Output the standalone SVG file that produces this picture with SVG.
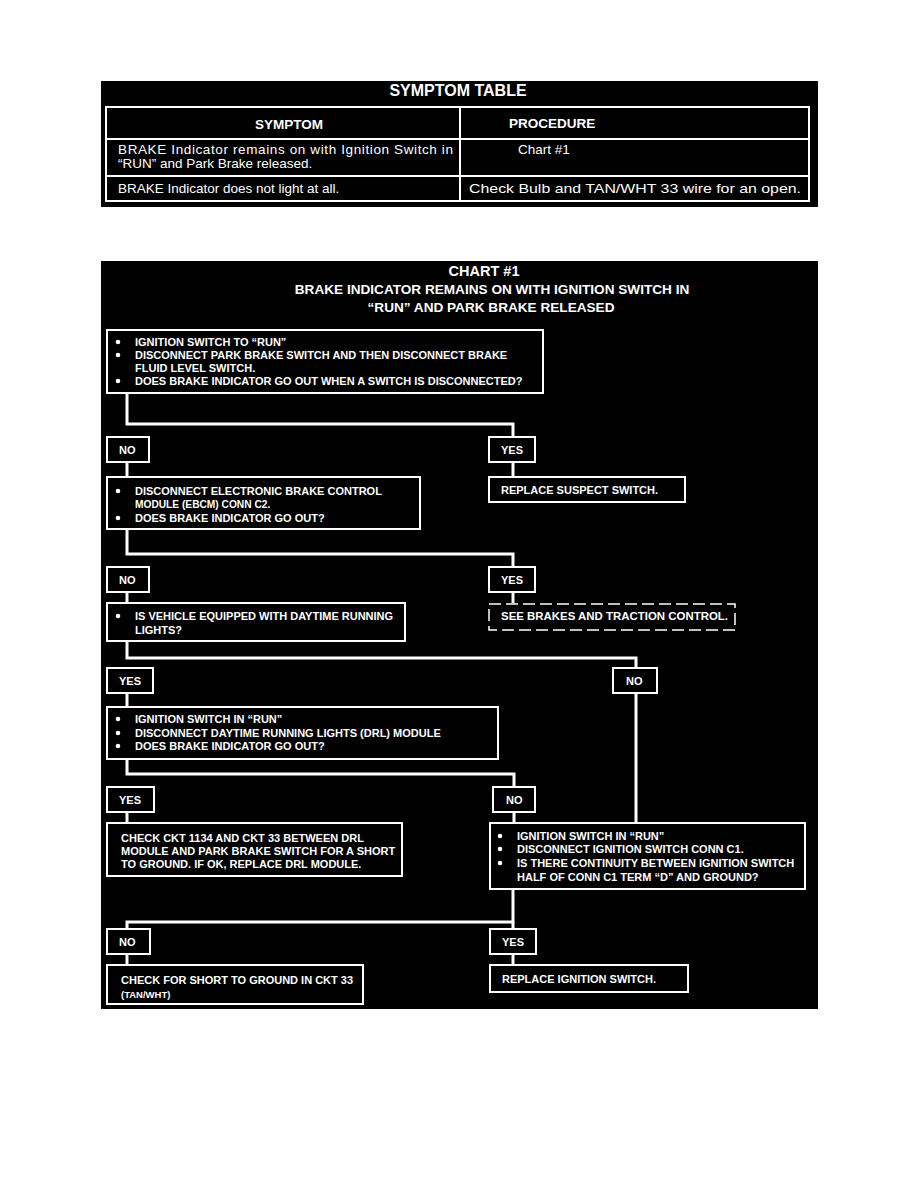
<svg xmlns="http://www.w3.org/2000/svg" width="918" height="1188" viewBox="0 0 918 1188">
<style>
.bg{fill:#000}
.cell{fill:none;stroke:#fff;stroke-width:2}
.box{fill:#000;stroke:#fff;stroke-width:2}
.dash{fill:#000;stroke:#fff;stroke-width:1.5;stroke-dasharray:12 5}
.con{fill:none;stroke:#fff;stroke-width:3}
.dot{fill:#fff}
.t{font-family:"Liberation Sans",Arial,sans-serif;fill:#fff;font-size:13.5px}
.h{font-family:"Liberation Sans",Arial,sans-serif;fill:#fff;font-weight:bold}
.b{font-family:"Liberation Sans",Arial,sans-serif;fill:#fff;font-weight:bold;font-size:11px}
</style>
<rect width="918" height="1188" fill="#fff"/>
<g id="symptom-table">
<rect class="bg" x="101" y="81" width="717" height="126"/>
<text class="h" x="458" y="96" font-size="16" text-anchor="middle">SYMPTOM TABLE</text>
<rect class="cell" x="106" y="107" width="703" height="94"/>
<line class="cell" x1="460" y1="107" x2="460" y2="201"/>
<line class="cell" x1="106" y1="139" x2="809" y2="139"/>
<line class="cell" x1="106" y1="176" x2="809" y2="176"/>
<text class="h" x="289" y="129" font-size="13.5" text-anchor="middle">SYMPTOM</text>
<text class="h" x="509" y="128" font-size="13.5">PROCEDURE</text>
<text class="t" x="118" y="154" textLength="335" lengthAdjust="spacing">BRAKE Indicator remains on with Ignition Switch in</text>
<text class="t" x="118" y="168">“RUN” and Park Brake released.</text>
<text class="t" x="518" y="154">Chart #1</text>
<text class="t" x="118" y="193">BRAKE Indicator does not light at all.</text>
<text class="t" x="469" y="193" textLength="332" lengthAdjust="spacingAndGlyphs">Check Bulb and TAN/WHT 33 wire for an open.</text>
</g>
<rect class="bg" x="101" y="261" width="717" height="748"/>
<g id="title">
<text class="h" x="484" y="276" font-size="14.5" text-anchor="middle">CHART #1</text>
<text class="h" x="492" y="294" font-size="13.6" text-anchor="middle">BRAKE INDICATOR REMAINS ON WITH IGNITION SWITCH IN</text>
<text class="h" x="491" y="312" font-size="13.6" text-anchor="middle">“RUN” AND PARK BRAKE RELEASED</text>
</g>
<g id="connectors">
<polyline class="con" points="127,393 127,424 513,424 513,437"/>
<line class="con" x1="127" y1="462" x2="127" y2="477"/>
<line class="con" x1="513" y1="462" x2="513" y2="477"/>
<polyline class="con" points="127,529 127,554 513,554 513,567"/>
<line class="con" x1="127" y1="592" x2="127" y2="603"/>
<line class="con" x1="513" y1="592" x2="513" y2="603"/>
<polyline class="con" points="127,641 127,658 636,658 636,668"/>
<line class="con" x1="127" y1="693" x2="127" y2="707"/>
<line class="con" x1="636" y1="693" x2="636" y2="823"/>
<polyline class="con" points="127,759 127,774 514,774 514,787"/>
<line class="con" x1="127" y1="812" x2="127" y2="823"/>
<line class="con" x1="514" y1="812" x2="514" y2="823"/>
<polyline class="con" points="513,889 513,922 127,922 127,929"/>
<line class="con" x1="513" y1="922" x2="513" y2="929"/>
<line class="con" x1="127" y1="954" x2="127" y2="965"/>
<line class="con" x1="513" y1="954" x2="513" y2="965"/>
</g>
<g id="n1">
<rect class="box" x="107" y="330" width="436" height="63"/>
<circle class="dot" cx="118" cy="342" r="2.3"/><text class="b" x="135" y="346">IGNITION SWITCH TO “RUN”</text>
<circle class="dot" cx="118" cy="355" r="2.3"/><text class="b" x="135" y="359">DISCONNECT PARK BRAKE SWITCH AND THEN DISCONNECT BRAKE</text>
<text class="b" x="135" y="372">FLUID LEVEL SWITCH.</text>
<circle class="dot" cx="118" cy="381" r="2.3"/><text class="b" x="135" y="385">DOES BRAKE INDICATOR GO OUT WHEN A SWITCH IS DISCONNECTED?</text>
</g>
<g id="l1no"><rect class="box" x="107" y="437" width="42" height="25"/><text class="b" x="119" y="454">NO</text></g>
<g id="l1yes"><rect class="box" x="489" y="437" width="46" height="25"/><text class="b" x="501" y="454">YES</text></g>
<g id="n2">
<rect class="box" x="107" y="477" width="313" height="52"/>
<circle class="dot" cx="118" cy="491" r="2.3"/><text class="b" x="135" y="495">DISCONNECT ELECTRONIC BRAKE CONTROL</text>
<text class="b" x="135" y="508" style="font-size:10.2px">MODULE (EBCM) CONN C2.</text>
<circle class="dot" cx="118" cy="518" r="2.3"/><text class="b" x="135" y="522">DOES BRAKE INDICATOR GO OUT?</text>
</g>
<g id="n3">
<rect class="box" x="489" y="477" width="196" height="25"/>
<text class="b" x="501" y="494">REPLACE SUSPECT SWITCH.</text>
</g>
<g id="l2no"><rect class="box" x="107" y="567" width="42" height="25"/><text class="b" x="119" y="584">NO</text></g>
<g id="l2yes"><rect class="box" x="489" y="567" width="46" height="25"/><text class="b" x="501" y="584">YES</text></g>
<g id="n4">
<rect class="box" x="107" y="603" width="298" height="38"/>
<circle class="dot" cx="118" cy="616" r="2.3"/><text class="b" x="135" y="620">IS VEHICLE EQUIPPED WITH DAYTIME RUNNING</text>
<text class="b" x="135" y="634">LIGHTS?</text>
</g>
<g id="n5">
<rect class="dash" x="489" y="604" width="246" height="26"/>
<text class="b" x="501" y="620" style="font-size:10.8px" textLength="227" lengthAdjust="spacingAndGlyphs">SEE BRAKES  AND TRACTION CONTROL.</text>
</g>
<g id="l3yes"><rect class="box" x="107" y="668" width="46" height="25"/><text class="b" x="119" y="685">YES</text></g>
<g id="l3no"><rect class="box" x="613" y="668" width="44" height="25"/><text class="b" x="626" y="685">NO</text></g>
<g id="n6">
<rect class="box" x="107" y="707" width="391" height="52"/>
<circle class="dot" cx="118" cy="719" r="2.3"/><text class="b" x="135" y="723">IGNITION SWITCH IN “RUN”</text>
<circle class="dot" cx="118" cy="733" r="2.3"/><text class="b" x="135" y="737">DISCONNECT DAYTIME RUNNING LIGHTS (DRL) MODULE</text>
<circle class="dot" cx="118" cy="746" r="2.3"/><text class="b" x="135" y="750">DOES BRAKE INDICATOR GO OUT?</text>
</g>
<g id="l4yes"><rect class="box" x="107" y="787" width="47" height="25"/><text class="b" x="119" y="804">YES</text></g>
<g id="l4no"><rect class="box" x="493" y="787" width="42" height="25"/><text class="b" x="506" y="804">NO</text></g>
<g id="n7">
<rect class="box" x="107" y="823" width="295" height="53"/>
<text class="b" x="121" y="842">CHECK CKT 1134 AND CKT 33 BETWEEN DRL</text>
<text class="b" x="121" y="855">MODULE AND PARK BRAKE SWITCH FOR A SHORT</text>
<text class="b" x="121" y="868">TO GROUND. IF OK, REPLACE DRL MODULE.</text>
</g>
<g id="n8">
<rect class="box" x="490" y="823" width="315" height="66"/>
<circle class="dot" cx="500" cy="836" r="2.3"/><text class="b" x="517" y="840">IGNITION SWITCH IN “RUN”</text>
<circle class="dot" cx="500" cy="849" r="2.3"/><text class="b" x="517" y="853">DISCONNECT IGNITION SWITCH CONN C1.</text>
<circle class="dot" cx="500" cy="863" r="2.3"/><text class="b" x="517" y="867">IS THERE CONTINUITY BETWEEN IGNITION SWITCH</text>
<text class="b" x="517" y="881">HALF OF CONN C1 TERM “D” AND GROUND?</text>
</g>
<g id="l5no"><rect class="box" x="107" y="929" width="43" height="25"/><text class="b" x="119" y="946">NO</text></g>
<g id="l5yes"><rect class="box" x="490" y="929" width="46" height="25"/><text class="b" x="502" y="946">YES</text></g>
<g id="n9">
<rect class="box" x="107" y="965" width="256" height="39"/>
<text class="b" x="121" y="984">CHECK FOR SHORT TO GROUND IN CKT 33</text>
<text class="b" x="121" y="998" style="font-size:9.5px">(TAN/WHT)</text>
</g>
<g id="n10">
<rect class="box" x="490" y="965" width="198" height="27"/>
<text class="b" x="502" y="983">REPLACE IGNITION SWITCH.</text>
</g>
</svg>
